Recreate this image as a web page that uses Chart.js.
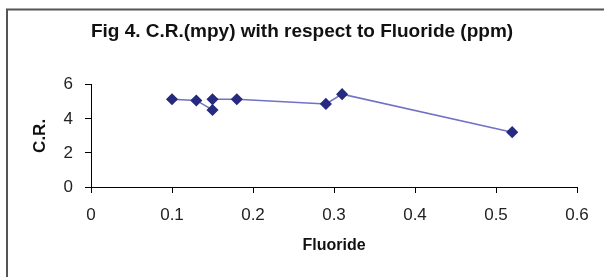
<!DOCTYPE html>
<html>
<head>
<meta charset="utf-8">
<script src="https://cdn.jsdelivr.net/npm/chart.js@4.4.1/dist/chart.umd.min.js"></script>
<style>
  html, body { margin: 0; padding: 0; background: #fff; }
  #wrap { width: 604px; height: 277px; position: relative; }
</style>
</head>
<body>
<div id="wrap"><canvas id="c" width="604" height="277"></canvas></div>
<script>
const fluoride = [0.10, 0.13, 0.15, 0.15, 0.18, 0.29, 0.31, 0.52];
const crValues = [5.15, 5.08, 4.52, 5.15, 5.15, 4.88, 5.45, 3.22];
const xTicks = [0, 0.1, 0.2, 0.3, 0.4, 0.5, 0.6];
const yTicks = [0, 2, 4, 6];
const titleText = 'Fig 4. C.R.(mpy) with respect to Fluoride (ppm)';
const xTitle = 'Fluoride';
const yTitle = 'C.R.';

const points = fluoride.map((x, i) => ({ x: x, y: crValues[i] }));

const borderPlugin = {
  id: 'outerBorder',
  beforeDraw(chart) {
    const ctx = chart.ctx;
    ctx.save();
    ctx.fillStyle = '#fff';
    ctx.fillRect(0, 0, chart.width, chart.height);
    ctx.strokeStyle = '#555';
    ctx.lineWidth = 2;
    ctx.strokeRect(7, 9.5, chart.width + 10, chart.height + 10);
    ctx.restore();
  }
};

const fontFam = '"Liberation Sans", Arial, sans-serif';

new Chart(document.getElementById('c'), {
  type: 'scatter',
  data: {
    datasets: [{
      data: points,
      showLine: true,
      borderColor: '#7072c4',
      borderWidth: 1.5,
      backgroundColor: '#262a80',
      pointBackgroundColor: '#262a80',
      pointBorderColor: '#262a80',
      pointStyle: 'rectRot',
      pointRadius: 5,
      pointHoverRadius: 5,
      tension: 0
    }]
  },
  options: {
    responsive: false,
    animation: false,
    events: [],
    layout: { padding: { left: 27, right: 27, top: 0, bottom: 0 } },
    plugins: {
      legend: { display: false },
      tooltip: { enabled: false },
      title: {
        display: true,
        text: titleText,
        color: '#111',
        font: { family: fontFam, size: 19, weight: 'bold' },
        padding: { top: 20, bottom: 42 }
      }
    },
    scales: {
      x: {
        type: 'linear',
        min: 0, max: 0.6,
        afterBuildTicks(scale) { scale.ticks = xTicks.map(v => ({ value: v })); },
        afterFit(scale) { scale.height = 90; },
        ticks: {
          color: '#222',
          font: { family: fontFam, size: 17 },
          padding: 12,
          maxRotation: 0,
          callback: v => String(Number(v.toFixed(1)))
        },
        grid: { drawOnChartArea: false, drawTicks: true, tickLength: 6, color: '#000' },
        border: { color: '#000', width: 1 },
        title: {
          display: true, text: xTitle, color: '#111',
          font: { family: fontFam, size: 16, weight: 'bold' },
          padding: { top: 0, bottom: 22 }
        }
      },
      y: {
        type: 'linear',
        min: 0, max: 6,
        afterBuildTicks(scale) { scale.ticks = yTicks.map(v => ({ value: v })); },
        afterFit(scale) { scale.width = 64; },
        ticks: {
          color: '#222',
          font: { family: fontFam, size: 17 },
          padding: 12
        },
        grid: { drawOnChartArea: false, drawTicks: true, tickLength: 6, color: '#000' },
        border: { color: '#000', width: 1 },
        title: {
          display: true, text: yTitle, color: '#111',
          font: { family: fontFam, size: 17, weight: 'bold' },
          padding: { top: 3, bottom: 3 }
        }
      }
    }
  },
  plugins: [borderPlugin]
});
</script>
</body>
</html>
